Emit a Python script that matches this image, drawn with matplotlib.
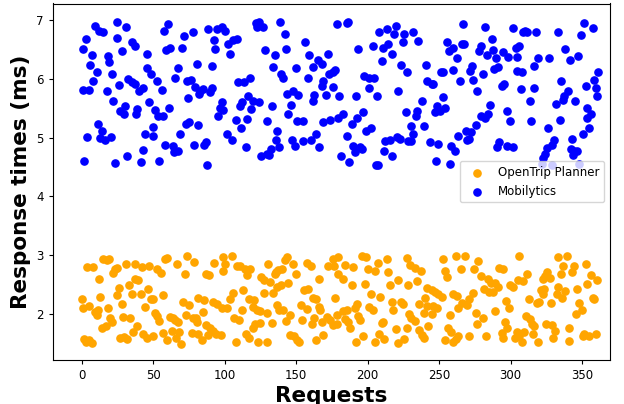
import matplotlib
matplotlib.use('Agg')
import matplotlib.pyplot as plt

# OpenTrip Planner
otp_req = [0.0, 0.5, 1.4, 2.8, 3.7, 5.1, 5.1, 6.8, 7.5, 9.1, 10.3, 11.4, 12.1, 12.6, 13.8, 14.9, 16.8, 17.7,
           18.4, 19.1, 19.6, 20.8, 21.9, 23.1, 24.3, 24.7, 25.9, 26.6, 27.8, 28.9, 29.4, 30.8, 31.7, 32.7,
           33.6, 34.8, 35.9, 37.1, 37.1, 38.7, 39.4, 41.1, 42.0, 42.9, 43.9, 45.3, 46.0, 47.1, 48.1, 49.5,
           49.9, 51.1, 52.7, 52.7, 54.1, 55.3, 56.5, 56.9, 58.1, 59.3, 59.7, 61.6, 62.8, 63.9, 65.1, 65.8,
           66.3, 67.4, 68.1, 69.1, 70.5, 72.1, 72.8, 73.7, 75.1, 76.8, 77.9, 78.4, 79.8, 80.3, 81.4, 81.4,
           83.8, 84.9, 85.4, 86.8, 86.8, 88.4, 89.1, 89.6, 91.5, 91.5, 92.4, 93.8, 94.7, 97.1, 97.8, 98.5,
           98.9, 100.1, 101.3, 103.6, 104.8, 105.5, 106.4, 107.8, 108.3, 110.1, 110.6, 111.8, 112.5, 114.1,
           114.8, 115.7, 117.1, 117.1, 117.6, 119.5, 119.9, 120.4, 121.1, 122.3, 123.4, 124.6, 124.6, 125.1,
           127.4, 127.4, 129.3, 129.7, 130.4, 131.6, 132.8, 133.5, 135.1, 135.8, 136.7, 136.7, 137.4, 138.1,
           139.1, 139.8, 140.5, 142.1, 142.8, 143.3, 144.4, 145.6, 145.6, 147.9, 148.4, 149.8, 150.3, 152.1,
           153.1, 153.8, 155.4, 157.3, 157.7, 158.4, 160.1, 160.8, 161.5, 162.4, 163.8, 163.8, 166.1, 166.1,
           166.6, 167.8, 168.9, 171.3, 172.4, 173.6, 175.5, 175.9, 176.4, 177.1, 178.3, 178.7, 179.4, 179.4,
           182.5, 182.9, 184.1, 184.1, 185.3, 186.4, 187.6, 188.8, 189.9, 191.1, 191.8, 192.3, 193.4, 194.6,
           195.8, 196.9, 198.1, 198.8, 200.4, 201.1, 202.1, 203.9, 205.1, 205.1, 207.4, 208.1, 208.6, 209.8,
           210.9, 211.4, 213.3, 214.4, 215.6, 216.8, 217.9, 219.8, 221.4, 221.4, 223.1, 224.5, 225.4, 227.3,
           227.3, 228.4, 229.1, 229.6, 230.1, 233.1, 233.1, 234.7, 236.1, 236.1, 237.1, 237.8, 239.4, 239.4,
           240.1, 241.3, 241.7, 242.4, 244.8, 244.8, 245.9, 247.1, 248.7, 249.4, 251.8, 252.9, 254.1, 254.1,
           255.7, 256.4, 257.6, 258.1, 259.5, 259.9, 261.8, 261.8, 262.3, 263.4, 263.4, 265.1, 265.8, 268.1,
           269.7, 271.1, 271.1, 273.5, 274.4, 275.8, 276.3, 277.4,
           279.1, 280.9, 281.4, 282.8, 284.4, 285.1, 286.1, 287.9, 289.1, 289.1, 291.4, 292.1, 293.8, 294.5,
           294.9, 296.1, 296.8, 297.7, 299.1, 299.6, 301.9, 303.1, 304.7, 305.4, 306.1, 306.1, 307.8, 308.5,
           309.4, 310.8, 311.7, 313.1, 313.6, 314.8, 315.5, 316.4, 318.3, 319.4, 320.1, 321.1, 322.5, 322.9,
           323.4, 324.1, 324.8, 325.7, 327.6, 328.1, 328.8, 329.9, 331.1, 332.7, 333.4, 333.4, 335.1, 335.8,
           336.9, 338.1, 339.3, 341.1, 341.1, 342.8, 344.4, 345.8, 346.7, 348.1, 349.8, 350.5, 351.4, 352.8,
           353.7, 355.1, 356.1, 357.5, 358.4, 359.8, 360.7]
otp_ms = [2.25, 2.10, 1.57, 1.53, 2.80, 1.56, 2.14, 1.51, 2.80, 2.04, 1.98, 2.07, 2.59, 2.29, 1.77, 2.94, 1.80, 2.92,
          2.10, 2.93, 1.93, 1.87, 2.70, 2.77, 2.32, 2.79, 2.45, 1.59, 2.18, 1.95, 1.61, 2.85, 1.57, 2.49,
          1.94, 2.34, 1.70, 2.85, 2.60, 1.80, 2.58, 2.35, 2.80, 1.67, 2.12, 1.60, 2.42, 2.81, 2.25, 1.63,
          2.25, 2.02, 2.76, 1.97, 1.89, 2.70, 1.68, 2.32, 2.93, 1.56, 2.96, 1.95, 1.72, 1.93, 1.90, 1.59,
          2.85, 1.87, 1.70, 1.49, 2.21, 2.69, 1.98, 2.98, 2.15, 1.68, 1.94, 2.88, 1.93, 1.87, 2.27, 1.67,
          1.56, 2.04, 2.24, 2.68, 1.81, 1.64, 2.66, 1.77, 2.21, 1.72, 2.87, 1.67, 2.18, 1.64, 2.10, 2.73,
          2.97, 2.86, 2.10, 2.25, 2.98, 2.36, 1.93, 1.53, 2.81, 1.90, 2.81, 2.07, 2.41, 2.76,
          1.67, 2.66, 2.25, 1.59, 2.77, 2.12, 1.77, 2.24, 1.84, 2.07, 1.53, 2.06, 1.85, 2.63,
          2.58, 2.36, 2.02, 1.53, 2.86, 2.55, 1.85, 2.36, 2.68, 2.72, 2.46, 2.15, 2.75, 2.07,
          2.49, 2.76, 2.07, 2.92, 1.89, 2.97, 2.53, 1.98, 1.64, 2.86, 1.62, 2.69, 1.56, 1.53,
          2.15, 1.90, 2.41, 2.08, 2.87, 2.42, 2.81, 1.84, 2.28, 1.94, 2.25, 1.56, 2.60, 2.12,
          2.07, 1.87, 1.64, 1.95, 2.81, 1.90, 2.94, 1.81, 2.81, 2.28, 1.98, 1.84, 2.97, 2.69,
          2.59, 2.06, 2.83, 1.91, 2.07, 1.87, 1.77, 2.49, 2.80, 2.10, 1.53, 2.17, 1.97, 1.90,
          2.98, 1.62, 2.51, 2.97, 2.76, 2.12, 2.35, 2.07, 2.73, 1.53, 2.87, 1.66, 2.29, 1.85,
          1.87, 1.57, 2.93, 2.72, 2.49, 2.21, 2.07, 1.74, 2.58, 1.51, 2.21, 2.18, 1.57, 2.96,
          1.77, 2.49, 2.00, 2.83, 1.93, 2.79, 1.89, 2.56, 2.17, 1.73, 2.73, 1.64, 2.02, 1.59,
          2.28, 2.14, 2.45, 1.79, 2.41, 2.00, 2.14, 2.38, 2.10, 2.35, 2.29, 2.93, 2.73, 1.56,
          2.63, 1.76, 1.98, 1.70, 2.35, 1.53, 2.98, 1.57, 2.31, 2.10, 1.63, 2.77, 2.19, 2.98,
          2.15, 2.25, 1.62, 2.36, 2.76, 2.02, 1.84, 2.90,
          2.64, 1.93, 2.42, 1.63, 2.59, 2.38, 2.53, 2.38, 2.53, 2.06, 2.46, 2.79, 1.68, 2.76,
          1.59, 1.87, 2.23, 1.76, 2.10, 2.49, 2.46, 1.59, 1.70, 2.58, 2.98, 1.62, 1.53, 2.56,
          1.70, 1.97, 2.68, 2.25, 1.91, 1.84, 1.66, 1.79, 2.19, 1.53, 2.21, 2.41, 2.35, 2.59,
          2.42, 2.64, 1.84, 2.72, 2.62, 2.19, 1.81, 1.59, 1.72, 2.34, 2.97, 2.46, 2.69, 2.27,
          2.81, 2.39, 2.98, 1.77, 1.55, 2.72, 2.81, 2.00, 2.42, 2.19, 2.07, 1.62, 1.67, 2.85,
          2.51, 1.62, 2.66, 2.28, 2.25, 1.67, 2.58]

# Mobilytics
mob_req = [0.6, 0.5, 1.6, 2.8, 3.7, 5.1, 5.6, 6.8, 7.9, 9.1, 10.3, 11.0, 12.1, 12.6, 13.8, 14.9, 16.1, 17.3,
           18.4, 19.1, 20.1, 20.8, 21.9, 23.1, 24.3, 24.7, 25.9, 26.6, 27.8, 29.4, 30.1, 30.8, 31.7, 32.4,
           34.8, 34.8, 37.1, 37.1, 37.8, 38.7, 40.1, 41.1, 42.5, 42.9, 44.1, 45.3, 45.7, 47.1, 48.1, 49.5,
           49.9, 51.1, 52.3, 53.4, 54.1, 55.8, 56.5, 57.4, 58.1, 58.8, 60.4, 61.1, 61.6, 63.5, 64.4, 65.1,
           67.4, 67.4, 68.6,
           70.2, 71.4, 72.8, 73.7, 74.4, 75.1, 76.1, 77.5, 78.4, 79.1, 80.3, 81.4, 82.1, 82.6, 84.9, 85.6,
           86.8, 87.3, 88.4, 89.6, 90.8, 90.8, 92.4, 93.1, 94.3, 95.4, 96.6, 97.8, 97.8, 98.9, 100.1, 101.7,
           102.4, 103.6, 104.8, 105.9, 107.8, 108.7, 109.4, 110.6, 111.1, 111.8, 113.4, 114.8, 115.7, 116.4,
           117.6, 118.1, 119.5, 121.8, 122.7, 124.1, 124.1, 125.1, 126.5, 128.1, 129.3, 129.3, 131.1, 132.1,
           132.8, 133.9, 135.1, 135.8, 136.3, 138.1, 138.6, 139.1, 140.9, 142.1, 142.6, 143.7, 144.4, 146.1,
           146.8, 147.9, 149.1, 149.8, 150.3, 151.4,
           154.5, 154.9, 156.1, 158.4, 159.1, 160.1, 161.5, 161.9, 162.6, 163.8, 165.4, 166.1, 167.8, 167.8,
           168.9, 168.9, 170.8, 172.4, 173.1, 173.6, 175.5, 175.9, 177.1, 178.3, 179.4, 180.1, 181.1, 182.9,
           185.3, 185.7, 186.4, 187.1, 188.8, 189.5, 191.1, 191.8, 192.3, 193.4, 194.6, 195.8, 196.5, 197.4,
           198.8, 201.1, 201.1, 202.1, 203.5, 204.4, 205.8, 206.7, 207.4, 208.1, 209.8, 210.5, 211.4, 212.1,
           213.3, 214.4, 215.6, 216.8, 216.8, 218.4, 219.8, 220.3, 221.4, 222.6, 223.1, 224.5, 225.4, 226.8,
           227.3, 228.4, 230.1, 230.1, 231.5, 231.5, 233.8, 234.3, 235.4,
           237.8, 239.4, 240.8, 241.7, 243.6, 244.8, 245.9, 247.1, 247.8, 248.3, 249.4, 250.6, 251.1, 252.9,
           252.9, 254.1, 255.7, 257.1, 257.6, 258.1, 259.5, 259.9, 261.1, 262.7, 263.4, 264.6, 265.8, 266.9,
           267.4, 268.8, 269.7, 271.1, 271.6, 272.1, 272.8, 273.9, 275.8, 276.7, 278.1, 279.1, 279.1, 280.5,
           282.1, 282.1, 283.7, 284.4, 285.6, 286.8, 287.5, 288.4, 289.8, 290.7, 291.4, 292.1, 293.8, 294.9,
           295.4, 297.3, 297.3, 298.4, 299.6, 301.5, 301.9, 303.8, 304.3, 304.7, 306.1, 307.1, 307.8, 308.9,
           310.1, 311.3, 313.6, 314.1, 316.4, 316.4, 317.8, 319.4,
           321.8, 322.9, 324.1, 325.3, 326.4, 327.1, 328.8, 328.8, 330.4, 331.8, 333.4, 334.6, 335.1, 336.5,
           337.4, 338.1, 340.4, 341.6, 342.1, 342.8, 343.5, 344.4, 345.1, 346.3, 347.4, 348.1, 349.1, 350.5,
           351.4, 352.8, 353.3, 353.7, 355.1, 356.1, 357.5, 358.4, 359.8, 360.3, 361.4]
mob_ms = [6.51, 5.81, 4.60, 6.67, 5.01, 5.81, 6.23, 6.41, 5.97, 6.90, 6.11, 5.23, 6.81, 4.99, 5.11, 6.79, 4.96, 5.79,
          6.39, 6.28, 5.01, 6.09, 5.62, 4.57, 6.70, 6.97, 5.89, 5.46, 6.47, 5.40, 5.53, 6.88, 4.68, 5.99,
          5.94, 6.62, 5.91, 6.56, 5.41, 5.49, 5.79, 4.58, 5.84, 4.79, 5.07, 6.43, 6.19, 5.60, 6.09, 5.18,
          5.02, 5.47, 5.97, 5.37, 4.60, 5.81, 5.36, 6.82, 4.88, 6.49, 6.94, 5.50, 6.53, 4.85, 4.75, 6.02,
          6.19, 4.78, 5.06,
          6.53, 6.72, 5.23, 5.97, 5.68, 5.26, 5.98, 6.79, 4.88, 5.86, 6.26, 5.21, 5.74, 5.80, 5.82, 4.88,
          4.92, 4.54, 6.84, 5.77, 5.85, 6.22, 6.66, 6.50, 6.84, 5.37, 5.51, 6.88, 5.60, 5.47, 6.81, 5.07,
          6.60, 6.43, 4.96, 6.66, 5.30, 6.68, 5.94, 5.54, 5.16, 5.60, 5.94, 4.84, 5.32, 5.71,
          6.01, 5.49, 5.63, 6.95, 6.88, 6.97, 5.60, 4.69, 6.88, 6.49, 5.29, 4.72, 4.71, 4.81,
          5.53, 6.20, 6.40, 4.96, 5.12, 4.84, 6.97, 6.08, 6.01, 6.76, 6.50, 5.75, 5.40, 5.56,
          4.96, 5.79, 4.86, 6.19, 5.29, 5.73,
          5.29, 4.95, 6.63, 6.02, 6.41, 4.96, 5.63, 6.20, 5.73, 5.06, 6.32, 4.84, 6.25, 5.88,
          5.97, 5.26, 5.73, 6.43, 6.08, 5.30, 6.12, 5.86, 6.15, 6.94, 5.34, 5.70, 4.68, 5.40,
          6.95, 5.03, 6.97, 4.58, 5.23, 4.85, 4.75, 5.71, 5.33, 6.50, 4.84, 4.81, 5.43, 6.05,
          5.12, 6.02, 5.84, 5.16, 6.56, 6.01, 4.54, 5.71, 4.54, 6.80, 6.31, 6.53, 4.78, 4.95,
          6.84, 6.60, 4.96, 6.42, 4.68, 6.76, 6.90, 5.01, 5.79, 4.98, 6.24, 6.63, 6.77, 5.43,
          6.12, 4.95, 5.20, 4.95, 6.79, 5.06, 5.37, 5.46, 6.64,
          5.63, 5.20, 6.23, 5.97, 4.92, 5.92, 5.91, 5.43, 4.61, 5.53, 4.90, 5.45, 6.12, 6.12,
          5.69, 5.51, 6.63, 6.47, 4.56, 4.86, 6.52, 6.15, 4.78, 6.35, 5.03, 5.97, 6.60, 6.93,
          6.60, 5.12, 4.96, 4.98, 6.14, 5.09, 6.22, 5.98, 5.22, 5.79, 6.47, 6.56, 5.36, 6.09,
          6.88, 5.33, 6.41, 5.40, 5.56, 6.67, 6.49, 6.16, 6.35, 4.84, 6.20, 4.92, 5.88, 6.45,
          5.91, 5.46, 4.85, 6.37, 5.28, 6.87, 4.84, 6.53, 6.14, 6.37, 6.56, 5.82, 6.12, 6.79,
          6.82, 6.79, 5.62, 5.29, 6.22, 5.84, 6.80, 6.36,
          4.55, 4.66, 4.73, 4.82, 5.16, 6.36, 4.88, 4.53, 4.96, 5.58, 6.80, 5.30, 5.97, 5.64,
          5.71, 6.50, 5.79, 6.32, 4.81, 4.98, 4.71, 4.77, 5.62, 4.78, 6.39, 4.55, 6.75, 5.06,
          6.95, 5.88, 5.34, 5.51, 5.16, 5.41, 6.87, 5.98, 5.84, 5.71, 6.12]

fig = plt.figure(figsize=(6.24, 4.04), dpi=100)
# el original está recortado por abajo: los ejes llenan casi toda la imagen
ax = fig.add_axes([53/624, 44/404, 557/624, 356.5/404])

ax.scatter(otp_req, otp_ms, color='orange', s=27, label='OpenTrip Planner')
ax.scatter(mob_req, mob_ms, color='blue', s=27, label='Mobilytics')

ax.set_xlim(-20.3, 369.6)
ax.set_ylim(1.22, 7.28)
ax.tick_params(labelsize=8.5, length=3)

ax.set_xlabel('Requests', fontsize=15.5, fontweight='bold', labelpad=3)
ax.set_ylabel('Response times (ms)', fontsize=15.5, fontweight='bold')
ax.legend(loc='center right', fontsize=8.5)

plt.savefig('out.png')
